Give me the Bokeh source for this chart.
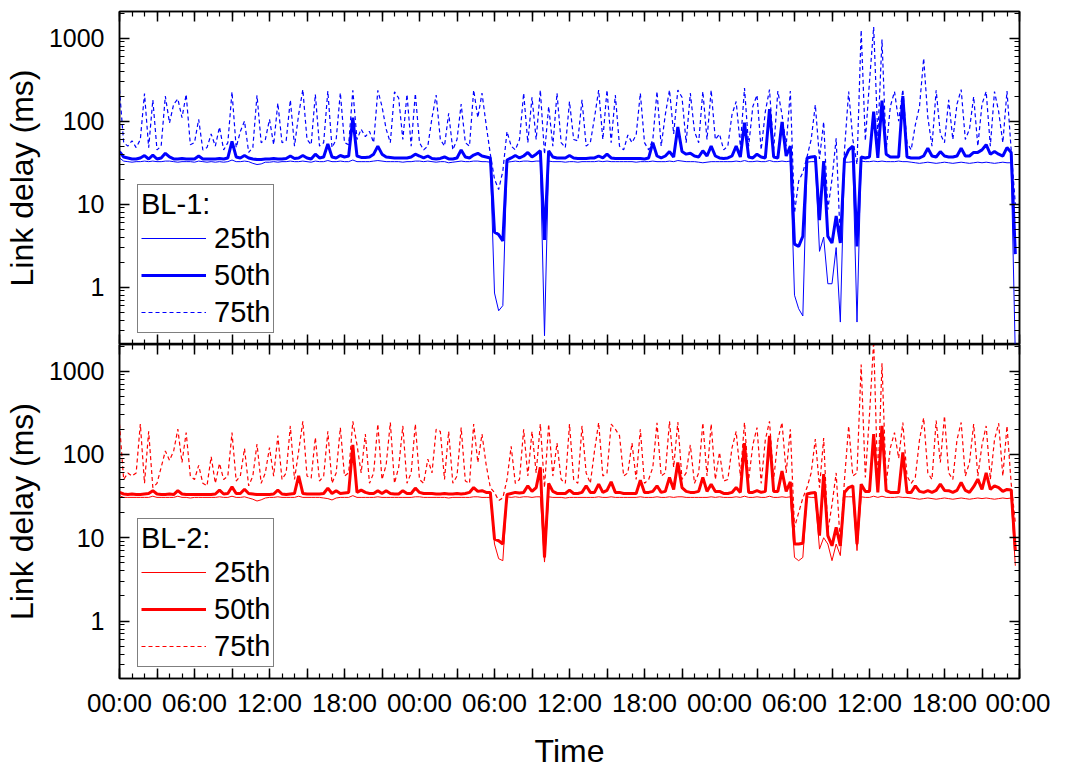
from bokeh.plotting import figure
from bokeh.layouts import column
from bokeh.models import (Range1d, FixedTicker, LinearAxis, LogAxis, Legend,
                          LegendItem, BasicTickFormatter)
from bokeh.embed import file_html
from bokeh.resources import INLINE

# ---------------- data (20-minute samples over three days) ----------------
hours = [i / 3 for i in range(216)]

x_tick_labels = ["00:00", "06:00", "12:00", "18:00", "00:00", "06:00", "12:00",
                 "18:00", "00:00", "06:00", "12:00", "18:00", "00:00"]
y_tick_labels = ["1", "10", "100", "1000"]

bl1_p25 = [
    36, 33, 32.5, 32, 32.5, 32.5, 33, 32.5, 33, 32.5,
    32.5, 33, 33, 32.5, 32, 32.5, 32.5, 32.5, 32, 33,
    32.5, 32, 32.5, 32, 32.5, 32, 32.5, 34, 32.5, 32.5,
    33, 32.5, 31, 30, 30.5, 32, 32, 32.5, 32, 32.5,
    32.5, 33, 32.5, 32.5, 33, 32.5, 32, 33, 32.5, 32.5,
    33.5, 32.5, 32.5, 33, 32.5, 32.5, 34, 32.5, 32.5, 32.5,
    32.5, 33, 33.5, 33, 32.5, 32.5, 32.5, 32.5, 32, 32.5,
    32.5, 33,
    33, 32.5, 33, 32.5, 32, 32.5, 32.5, 31.5, 32, 32.5,
    33, 32.5, 32.5, 33, 33, 32.5, 32.5, 32, 0.85, 0.52,
    0.6, 32, 32.5, 33, 32.5, 33, 33, 32.5, 33, 33,
    0.26, 33, 32.5, 32.5, 32.5, 32, 32.5, 32.5, 32, 32.5,
    32.5, 32.5, 32.5, 33, 32.5, 33, 32.5, 32.5, 32.5, 32.5,
    32.5, 32.5, 32, 32.5, 32.5, 32.5, 33, 32.5, 32.5, 32.5,
    33, 32.5, 33.5, 33, 32.5, 32.5, 32.5, 32, 31.5, 32,
    32.5, 32.5,
    32.5, 32.5, 32.5, 32.5, 33, 32.5, 33.5, 32.5, 32.5, 33,
    32.5, 32.5, 33.5, 32.5, 32.5, 33, 32.5, 33, 0.8, 0.55,
    0.45, 32, 32.5, 32.5, 2.7, 4.0, 1.1, 1.1, 3.0, 0.38,
    32, 32, 32.5, 0.38, 33, 32.5, 32.5, 33, 32.5, 33,
    32.5, 32.5, 32.5, 33, 32.5, 32.5, 32, 31.5, 31, 31.5,
    32, 31.5, 31, 31.5, 32, 31.5, 31, 31.5, 32, 31.5,
    31, 31.5, 32, 31.5, 32, 31.5, 31, 31.5, 32, 31.5,
    31.5, 0.15,
]

bl1_p50 = [
    43, 37, 36, 35, 35, 36, 38.5, 35, 39, 35,
    36, 41, 37, 35, 35, 35.5, 35, 35, 35, 38,
    35, 35, 35, 35, 35.5, 35, 36, 57, 37, 36,
    38.5, 36, 35, 34.5, 34.5, 35, 35, 35.5, 35, 35,
    35.5, 38, 35.5, 36, 38.5, 36, 35, 40, 36, 37,
    53, 37, 36, 38.5, 37, 38, 110, 38, 36.5, 36.5,
    37, 40, 50, 40, 37, 36.5, 36, 36, 36, 36,
    37, 40,
    38, 36, 38, 35.5, 35, 35.5, 37, 35, 35, 36,
    45, 37, 36, 39, 41, 38, 37, 36, 4.6, 4.3,
    3.6, 34, 36, 38.5, 36, 38, 42, 37, 40, 44,
    3.7, 44, 37, 36, 36, 36, 38.5, 36, 35.5, 35.5,
    35.5, 36, 36, 38, 36, 40, 36, 35.5, 35.5, 35.5,
    35.5, 35.5, 35.5, 35.5, 35, 36, 55, 38, 36, 38,
    43, 37, 85, 43, 40, 41, 38, 37, 44, 38,
    50, 38,
    36, 35.5, 36, 38, 50, 37, 96, 37, 36, 40,
    37, 36, 139, 37, 36, 98, 38, 50, 3.3, 3.1,
    4.1, 36, 37, 37.5, 6.4, 33, 4.1, 3.4, 7.2, 3.4,
    35, 45, 50, 3.1, 37, 36, 37, 130, 36, 177,
    40, 37, 37, 37, 200, 37, 36, 36, 36, 38,
    47, 38, 37, 43, 38, 37, 37, 38, 47, 38,
    38, 42, 42, 45, 52, 40, 43, 40, 38, 48,
    42, 2.5,
]

bl1_p75 = [
    240, 55, 50, 58, 48, 60, 215, 48, 180, 45,
    50, 200, 95, 160, 185, 110, 210, 52, 55, 105,
    45, 48, 70, 50, 85, 45, 55, 225, 48, 75,
    100, 42, 48, 205, 55, 60, 105, 52, 165, 55,
    58, 180, 50, 120, 240, 60, 52, 210, 50, 55,
    230, 48, 60, 220, 55, 52, 235, 60, 80, 65,
    75, 55, 235, 150, 80, 55, 225, 190, 60, 210,
    50, 215,
    55, 45, 50, 110, 206, 60, 50, 124, 45, 60,
    160, 55, 50, 237, 110, 217, 90, 40, 20, 15,
    25, 75, 50, 45, 60, 217, 55, 194, 60, 237,
    40, 150, 50, 217, 55, 48, 172, 60, 58, 180,
    50, 55, 110, 237, 60, 237, 55, 206, 50, 45,
    68, 55, 68, 217, 55, 45, 60, 228, 50, 120,
    237, 70, 237, 194, 55, 217, 75, 55, 228, 60,
    237, 60,
    70, 45, 50, 120, 172, 50, 250, 50, 150, 206,
    45, 130, 240, 45, 230, 120, 50, 230, 7.8, 19,
    24, 37, 60, 157, 35, 98, 8.6, 20, 62, 3.4,
    45, 227, 60, 30, 1250, 58, 300, 1360, 65, 960,
    44, 150, 227, 100, 240, 55, 45, 90, 150, 570,
    110, 50, 235, 70, 55, 180, 60, 160, 240, 60,
    80, 197, 50, 160, 227, 50, 227, 130, 55, 230,
    45, 10,
]

bl2_p25 = [
    32, 30.5, 30.5, 30.5, 30.5, 30.5, 30.5, 30.5, 31.5, 30.5,
    30.5, 30.5, 30.5, 30.5, 31.5, 30.5, 30.5, 30, 30.5, 30.5,
    30.5, 30.5, 30.5, 30.5, 31, 30.5, 30.5, 31.5, 30.5, 30.5,
    31, 30, 29, 27.6, 28.5, 30, 30.5, 30.5, 31, 30.5,
    30.5, 30.5, 30.5, 31.5, 30.5, 30.5, 30.5, 30.5, 30.5, 30,
    29.5, 28.4, 30, 30.5, 30.5, 30.5, 32, 30.5, 30.5, 30.5,
    30.5, 30.5, 31, 30.5, 30.5, 30.5, 30.5, 30.5, 30.5, 30.5,
    30.5, 31,
    31, 30.5, 30.5, 30.5, 30.5, 30.5, 30.5, 30, 30.5, 30.5,
    30.5, 30.5, 30.5, 31, 31, 30.5, 30.5, 30.5, 8.4, 5.6,
    5.3, 31, 30.5, 31, 30.5, 31, 31, 30.5, 31, 31,
    5.1, 31, 30.5, 30.5, 30.5, 30, 30.5, 30.5, 30.5, 30.5,
    30.5, 30.5, 30.5, 31, 30.5, 30.5, 31, 30.5, 30.5, 30.5,
    30.5, 30.5, 30.5, 31, 30.5, 30.5, 30.5, 31, 30.5, 30.5,
    31, 30.5, 31, 31, 30.5, 30.5, 30.5, 30.5, 30.5, 30.5,
    31, 30.5,
    31, 30.5, 30.5, 30.5, 31, 30.5, 31.5, 30.5, 30.5, 31,
    30.5, 30.5, 31.5, 30.5, 30.5, 31, 30.5, 31, 5.8, 5.3,
    5.8, 31, 30.5, 30.5, 7.3, 10, 8.4, 5.3, 8.4, 6.1,
    31, 31, 31, 7, 31, 30.5, 30.5, 31.5, 30.5, 31.5,
    30.5, 30.5, 30.5, 31, 30.5, 30.5, 30, 29.5, 29, 29.5,
    30, 29.5, 29, 29.5, 30, 29.5, 29, 29.5, 30, 29.5,
    29, 29.5, 30, 29.5, 30, 29.5, 29, 29.5, 30, 29.5,
    30, 4.6,
]

bl2_p50 = [
    35, 33.5, 33, 33.5, 33, 33, 33.5, 34, 36.7, 33.5,
    33, 33, 33.5, 33, 36.7, 33.5, 33, 33, 33, 33,
    33, 33, 33, 33.5, 37.3, 33.5, 34, 40.8, 34, 34,
    38.2, 34, 33.5, 33, 33, 33, 33, 33.5, 37.3, 33.5,
    33, 33.5, 34, 55.5, 34, 33.5, 33.5, 33.5, 33.5, 34,
    39.5, 34, 36.7, 34, 34.5, 35, 130, 35, 37.3, 35,
    34, 34, 36.7, 34, 36.7, 34, 33.5, 33.5, 36.7, 34,
    34, 39.5,
    35, 34, 34, 34, 33.5, 33.5, 34, 33.5, 33.5, 34,
    33.5, 34, 35, 40, 36, 36.7, 35, 35, 9.6, 9.2,
    8.4, 33, 34, 35, 34.5, 35, 42, 36, 40, 70,
    5.8, 45, 36, 34, 34, 34, 37.3, 34, 34, 35,
    42, 35, 35, 44, 35, 37, 46.9, 35, 35, 34,
    34, 34, 34, 49, 35, 35, 36, 42, 35, 36,
    53, 38, 80, 40, 36, 35, 35, 36, 53, 36,
    44, 36,
    36, 34, 34, 35, 40, 35, 137, 35, 35, 36.7,
    35, 36, 167, 36, 36, 63, 36, 47, 8.4, 8.4,
    8.6, 33.5, 34.5, 35, 10.6, 58, 10.6, 8, 13.3, 8,
    35, 40, 42, 8.4, 44, 36, 36, 175, 35, 220,
    36.7, 35, 35, 35, 106, 35, 35, 42, 36, 35,
    36.7, 35, 37, 44, 37, 36.7, 35, 37, 46, 37,
    35, 41, 50.5, 38, 60, 38, 42, 40, 36, 38,
    37.5, 7,
]

bl2_p75 = [
    230, 50, 60, 55, 60, 232, 45, 189, 40, 45,
    70, 110, 85, 110, 201, 80, 183, 55, 50, 74,
    45, 42, 94, 45, 78, 50, 55, 183, 48, 55,
    118, 42, 55, 133, 45, 60, 121, 55, 168, 50,
    60, 220, 50, 110, 250, 55, 52, 160, 48, 55,
    189, 45, 60, 210, 55, 60, 250, 130, 60, 176,
    45, 60, 232, 50, 75, 242, 45, 70, 220, 45,
    60, 232,
    50, 45, 88, 60, 201, 189, 50, 189, 45, 55,
    210, 48, 45, 232, 80, 176, 75, 40, 35, 28,
    30, 50, 125, 45, 50, 201, 55, 189, 60, 232,
    40, 232, 55, 137, 50, 45, 232, 50, 45, 220,
    60, 45, 110, 242, 55, 60, 232, 201, 168, 55,
    60, 137, 50, 201, 45, 50, 70, 240, 55, 60,
    250, 70, 245, 50, 60, 130, 45, 60, 240, 55,
    232, 50,
    106, 48, 50, 120, 189, 55, 242, 50, 130, 210,
    45, 150, 250, 50, 150, 242, 60, 201, 13.3, 20,
    30, 40, 60, 153, 40, 157, 12, 25, 60, 8,
    50, 220, 55, 60, 1200, 53, 300, 2300, 44, 1240,
    44, 120, 183, 90, 242, 55, 45, 53, 150, 275,
    60, 50, 255, 80, 290, 60, 50, 150, 242, 55,
    80, 232, 55, 130, 220, 50, 150, 237, 55, 220,
    45, 15,
]

for s in (bl1_p25, bl1_p50, bl1_p75, bl2_p25, bl2_p50, bl2_p75):
    assert len(s) == len(hours), len(s)

# ---------------- styling helpers ----------------
FONT = "Liberation Sans"
x_major = list(range(0, 73, 3))
x_minor = list(range(0, 73))
x_over = {h: (x_tick_labels[h // 6] if h % 6 == 0 else "") for h in x_major}
y_major = [1, 10, 100, 1000]
y_minor = [m * 10.0 ** e for e in range(-1, 4) for m in range(2, 10)]


def tick_style(ax, labels):
    ax.major_tick_in = 10
    ax.major_tick_out = 0
    ax.minor_tick_in = 5
    ax.minor_tick_out = 0
    ax.axis_line_width = 1.5
    ax.axis_line_color = "black"
    ax.major_tick_line_width = 1.5
    ax.minor_tick_line_width = 1.2
    ax.major_tick_line_color = "black"
    ax.minor_tick_line_color = "black"
    if not labels:
        ax.major_label_text_font_size = "1px"
        ax.major_label_text_alpha = 0
        ax.major_label_standoff = 0
    else:
        ax.major_label_text_font = FONT
        ax.major_label_text_font_size = "25px"
        ax.major_label_text_color = "black"


def make_panel(name, color, p25, p50, p75, frame_h, top_border, show_x):
    p = figure(frame_width=900, frame_height=frame_h,
               x_range=Range1d(0, 72), y_range=Range1d(0.204, 2090),
               y_axis_type="log", output_backend="svg", toolbar_location=None,
               min_border_left=118, min_border_right=31,
               min_border_top=top_border, min_border_bottom=0)
    p.xgrid.visible = False
    p.ygrid.visible = False
    p.outline_line_color = "black"
    p.outline_line_width = 1.5
    p.background_fill_color = "white"
    p.border_fill_color = "white"

    xt = FixedTicker(ticks=x_major, minor_ticks=x_minor)
    yt = FixedTicker(ticks=y_major, minor_ticks=y_minor)

    xa = p.xaxis[0]
    xa.ticker = xt
    if show_x:
        xa.major_label_overrides = x_over
    tick_style(xa, show_x)
    if show_x:
        xa.major_label_text_font_size = "26px"
        xa.major_label_standoff = 9
        xa.axis_label = "Time"
        xa.axis_label_text_font = FONT
        xa.axis_label_text_font_size = "32px"
        xa.axis_label_text_font_style = "normal"
        xa.axis_label_text_color = "black"
        xa.axis_label_standoff = 12

    ya = p.yaxis[0]
    ya.ticker = yt
    ya.formatter = BasicTickFormatter()
    ya.major_label_overrides = {v: t for v, t in zip(y_major, y_tick_labels)}
    tick_style(ya, True)
    ya.major_label_standoff = 15
    ya.axis_label = "Link delay (ms)"
    ya.axis_label_text_font = FONT
    ya.axis_label_text_font_size = "32px"
    ya.axis_label_text_font_style = "normal"
    ya.axis_label_text_color = "black"
    ya.axis_label_standoff = 6

    top_ax = LinearAxis(ticker=xt)
    tick_style(top_ax, False)
    p.add_layout(top_ax, "above")
    right_ax = LogAxis(ticker=yt)
    tick_style(right_ax, False)
    p.add_layout(right_ax, "right")

    r75 = p.line(hours, p75, line_color=color, line_width=1.2, line_dash="4 3")
    r25 = p.line(hours, p25, line_color=color, line_width=1.0)
    r50 = p.line(hours, p50, line_color=color, line_width=3.0)

    leg = Legend(items=[LegendItem(label="25th", renderers=[r25]),
                        LegendItem(label="50th", renderers=[r50]),
                        LegendItem(label="75th", renderers=[r75])],
                 title=name, location=(18, 11), orientation="vertical")
    leg.title_text_font = FONT
    leg.title_text_font_size = "29px"
    leg.title_text_font_style = "normal"
    leg.title_text_color = "black"
    leg.title_standoff = 0
    leg.label_text_font = FONT
    leg.label_text_font_size = "29px"
    leg.label_text_color = "black"
    leg.label_height = 34
    leg.glyph_height = 34
    leg.glyph_width = 65
    leg.label_standoff = 8
    leg.spacing = 3
    leg.padding = 3
    leg.margin = 0
    leg.border_line_color = "black"
    leg.border_line_width = 1
    leg.background_fill_color = "white"
    leg.background_fill_alpha = 1.0
    p.add_layout(leg)
    return p


p1 = make_panel("BL-1:", "#0000FF", bl1_p25, bl1_p50, bl1_p75, 333, 11, False)
p2 = make_panel("BL-2:", "#FF0000", bl2_p25, bl2_p50, bl2_p75, 334, 0, True)

layout = column(p1, p2, spacing=0)
open("out.html", "w").write(file_html(layout, INLINE))
